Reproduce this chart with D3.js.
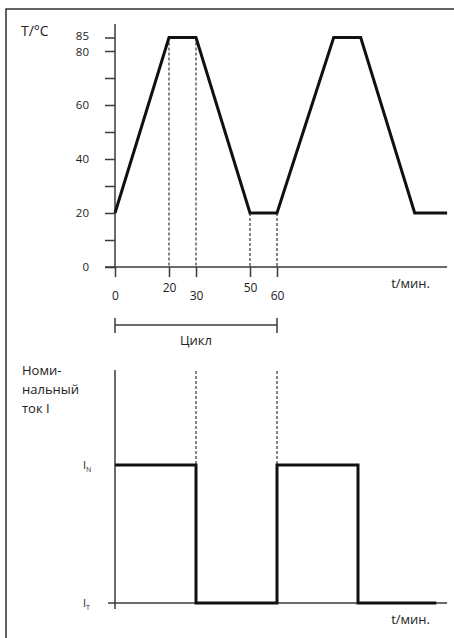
<!DOCTYPE html>
<html>
<head>
<meta charset="utf-8">
<script src="https://cdnjs.cloudflare.com/ajax/libs/d3/7.8.5/d3.min.js"></script>
<style>
  body { margin: 0; background: #fff; }
  text { font-family: "Open Sans", "DejaVu Sans", sans-serif; fill: #222; }
</style>
</head>
<body>
<svg width="454" height="638"></svg>
<script>
// temperature profile, two cycles
var tempTime = [0, 20, 30, 50, 60, 81, 91, 111, 123];
var tempValue = [20, 85, 85, 20, 20, 85, 85, 20, 20];
var tempTicks = [0, 10, 20, 30, 40, 50, 60, 70, 80, 85];
var tempLabels = [0, 20, 40, 60, 80, 85];
var timeTicks = [0, 20, 30, 50, 60];
var timeRaised = [20, 50];
var cycle = [0, 60];

// current: 1 = I_N, 0 = I_T
var curTime = [0, 30, 60, 90, 119];
var curValue = [1, 0, 1, 0, 0];
var curDashes = [30, 60];

var svg = d3.select("svg");

svg.append("rect")
    .attr("x", 6).attr("y", 9)
    .attr("width", 460).attr("height", 650)
    .attr("fill", "none")
    .attr("stroke", "#111")
    .attr("stroke-width", 1.3);

var x = d3.scaleLinear().domain([0, 60]).range([115, 277]);
var y = d3.scaleLinear().domain([0, 85]).range([267, 37.5]);
var yI = d3.scaleLinear().domain([0, 1]).range([603, 465]);

var axisColor = "#3a3a3a";

// ---- top chart ----
var tempG = svg.append("g");

tempG.selectAll("line.vdash")
    .data(tempTime.slice(1, 5))
    .enter().append("line")
    .attr("class", "vdash")
    .attr("x1", function (d) { return x(d); })
    .attr("x2", function (d) { return x(d); })
    .attr("y1", function (d, i) { return y(tempValue[i + 1]); })
    .attr("y2", y(0))
    .attr("stroke", "#222")
    .attr("stroke-width", 1.1)
    .attr("stroke-dasharray", "3,2");

var yAxis = tempG.append("g")
    .attr("transform", "translate(" + x(0) + ",0)")
    .call(d3.axisLeft(y)
        .tickValues(tempTicks)
        .tickSize(10)
        .tickPadding(16)
        .tickFormat(function (d) { return tempLabels.indexOf(d) >= 0 ? d : ""; }));
yAxis.select(".domain").remove();
yAxis.selectAll("line").attr("stroke", axisColor).attr("stroke-width", 1.5);
yAxis.selectAll("text")
    .style("font-size", "11.5px")
    .style("font-family", "'Open Sans', sans-serif")
    .attr("fill", "#222")
    .attr("y", function (d) { return d === 85 ? -2 : (d === 80 ? 1 : 0); });

tempG.append("line")
    .attr("x1", x(0)).attr("x2", x(0))
    .attr("y1", y(0)).attr("y2", y(90))
    .attr("stroke", axisColor).attr("stroke-width", 1.5);

var xAxis = tempG.append("g")
    .attr("transform", "translate(0," + y(0) + ")")
    .call(d3.axisBottom(x)
        .tickValues(timeTicks)
        .tickSize(10)
        .tickFormat(d3.format("d")));
xAxis.select(".domain").remove();
xAxis.selectAll("line").attr("stroke", axisColor).attr("stroke-width", 1.5);
xAxis.selectAll("text")
    .style("font-size", "12px")
    .style("font-family", "'Open Sans', sans-serif")
    .attr("fill", "#222")
    .attr("dy", null)
    .attr("y", function (d) { return timeRaised.indexOf(d) >= 0 ? 25 : 33; });

tempG.append("line")
    .attr("x1", x(0) - 10).attr("x2", x(123))
    .attr("y1", y(0)).attr("y2", y(0))
    .attr("stroke", axisColor).attr("stroke-width", 1.5);

var tempLine = d3.line()
    .x(function (d, i) { return x(tempTime[i]); })
    .y(function (d) { return y(d); });

tempG.append("path")
    .attr("d", tempLine(tempValue))
    .attr("fill", "none")
    .attr("stroke", "#111")
    .attr("stroke-width", 3)
    .attr("stroke-linejoin", "miter");

tempG.append("text")
    .attr("x", 21).attr("y", 36)
    .style("font-size", "14px")
    .text("T/°C");

tempG.append("text")
    .attr("x", 430).attr("y", 288)
    .attr("text-anchor", "end")
    .style("font-size", "13px")
    .text("t/мин.");

// cycle bracket
var br = svg.append("g");
br.append("line")
    .attr("x1", x(cycle[0])).attr("x2", x(cycle[1]))
    .attr("y1", 325).attr("y2", 325)
    .attr("stroke", axisColor).attr("stroke-width", 1.5);
br.selectAll("line.cap")
    .data(cycle)
    .enter().append("line")
    .attr("class", "cap")
    .attr("x1", function (d) { return x(d); })
    .attr("x2", function (d) { return x(d); })
    .attr("y1", 318).attr("y2", 333)
    .attr("stroke", axisColor).attr("stroke-width", 1.5);
br.append("text")
    .attr("x", x(30)).attr("y", 345)
    .attr("text-anchor", "middle")
    .style("font-size", "13px")
    .text("Цикл");

// ---- bottom chart ----
var curG = svg.append("g");

curG.selectAll("text.title")
    .data(["Номи-", "нальный", "ток I"])
    .enter().append("text")
    .attr("class", "title")
    .attr("x", 22)
    .attr("y", function (d, i) { return 375 + i * 19; })
    .style("font-size", "13px")
    .text(function (d) { return d; });

curG.selectAll("line.vdash")
    .data(curDashes)
    .enter().append("line")
    .attr("class", "vdash")
    .attr("x1", function (d) { return x(d); })
    .attr("x2", function (d) { return x(d); })
    .attr("y1", 371)
    .attr("y2", yI(1))
    .attr("stroke", "#222")
    .attr("stroke-width", 1.1)
    .attr("stroke-dasharray", "3,2");

curG.append("line")
    .attr("x1", x(0)).attr("x2", x(0))
    .attr("y1", yI(0) + 6).attr("y2", 370)
    .attr("stroke", axisColor).attr("stroke-width", 1.5);

curG.append("line")
    .attr("x1", x(0) - 7).attr("x2", x(123))
    .attr("y1", yI(0)).attr("y2", yI(0))
    .attr("stroke", axisColor).attr("stroke-width", 1.5);

var curLine = d3.line()
    .x(function (d, i) { return x(curTime[i]); })
    .y(function (d) { return yI(d); })
    .curve(d3.curveStepAfter);

curG.append("path")
    .attr("d", curLine(curValue))
    .attr("fill", "none")
    .attr("stroke", "#111")
    .attr("stroke-width", 3);

var iLabels = [{ v: 1, sub: "N" }, { v: 0, sub: "T" }];
var il = curG.selectAll("text.ilab")
    .data(iLabels)
    .enter().append("text")
    .attr("class", "ilab")
    .attr("x", 83)
    .attr("y", function (d) { return yI(d.v) + 4; })
    .style("font-size", "11px");
il.append("tspan").text("I");
il.append("tspan")
    .attr("dy", 3)
    .style("font-size", "7px")
    .text(function (d) { return d.sub; });

curG.append("text")
    .attr("x", 430).attr("y", 624)
    .attr("text-anchor", "end")
    .style("font-size", "13px")
    .text("t/мин.");
</script>
</body>
</html>
